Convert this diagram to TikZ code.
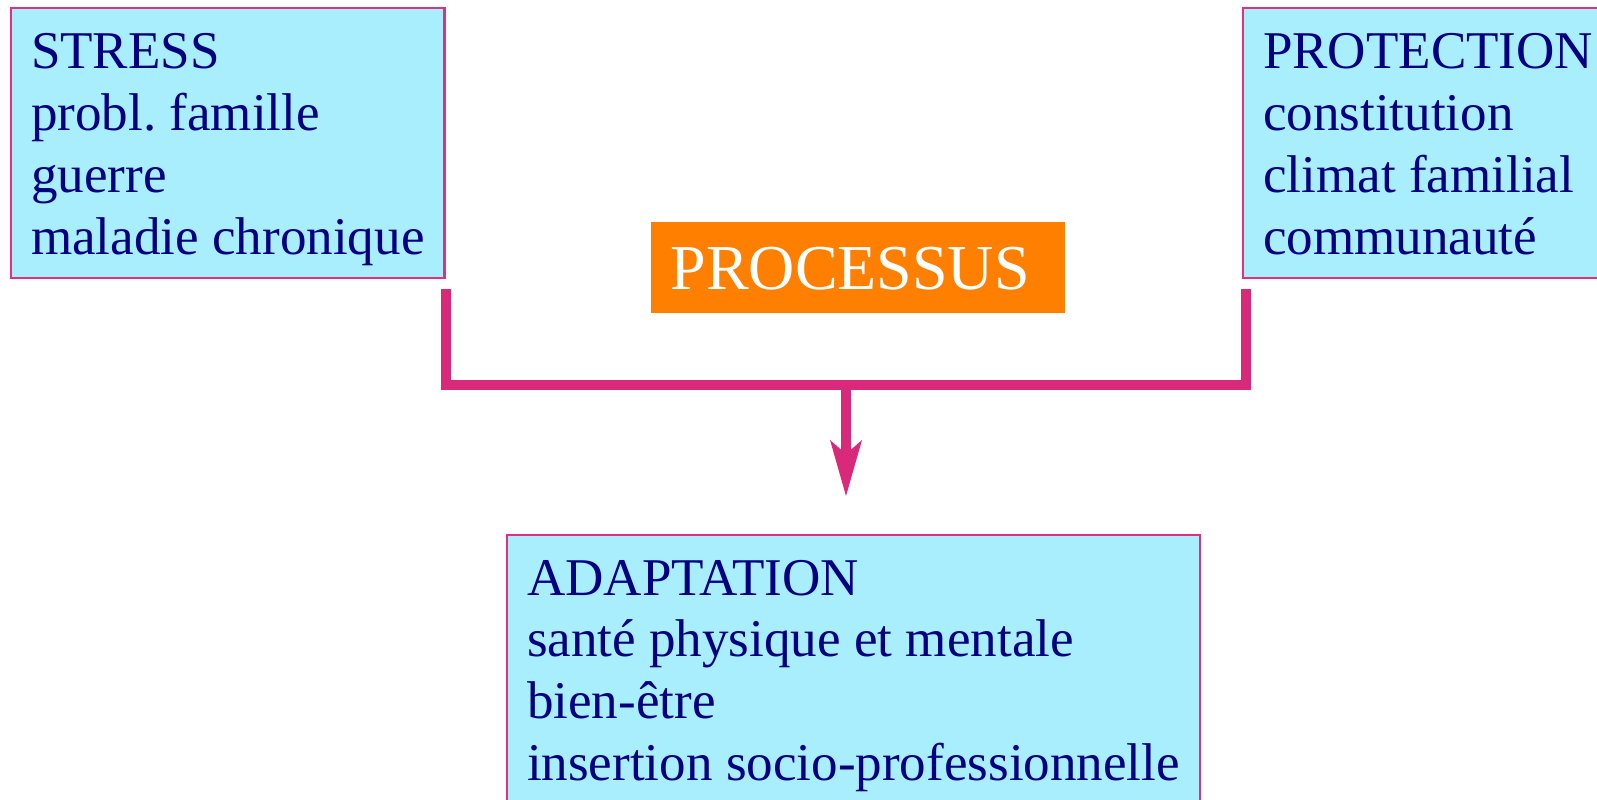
\documentclass[tikz,border=0pt]{standalone}
\usepackage{fontspec}
\setmainfont{Liberation Serif}
\usepackage{xcolor}
\usepackage{tikz}
\usetikzlibrary{arrows.meta}
\frenchspacing

\definecolor{boxcyan}{HTML}{A8EEFC}
\definecolor{boxrim}{HTML}{E0307F}
\definecolor{linkpink}{HTML}{D9297A}
\definecolor{textnavy}{HTML}{000080}
\definecolor{procorange}{HTML}{FF7F00}

\tikzset{
  factorbox/.style={draw=boxrim, line width=0.6pt, fill=boxcyan, text=textnavy,
    align=left, anchor=north west, inner xsep=2mm, inner ysep=0pt,
    font=\fontsize{15.1pt}{17.55pt}\selectfont},
  link/.style={draw=linkpink, line width=1mm}
}

\begin{document}
\begin{tikzpicture}
\useasboundingbox (0,0) rectangle (15.97,8);
\clip (0,0) rectangle (15.97,8);

\node[factorbox, text height=24.6mm, text depth=2.4mm] (stress) at (0.10,7.93)
  {STRESS\\probl. famille\\guerre\\maladie chronique};
\node[factorbox, text height=24.6mm, text depth=2.4mm] (protection) at (12.42,7.93)
  {PROTECTION\\constitution\\climat familial\\communauté};
\node[fill=procorange, text=white, anchor=north west, minimum width=4.14cm,
  inner xsep=0pt, inner ysep=0pt, text height=6.8mm, text depth=2.3mm,
  font=\fontsize{18.2pt}{21pt}\selectfont] (processus) at (6.50,5.79) {PROCESSUS\kern1.5mm};
\node[factorbox, text height=24.5mm, text depth=3mm] (adapt) at (5.06,2.66)
  {ADAPTATION\\santé physique et mentale\\bien-être\\insertion socio-professionnelle};

\coordinate (sIn) at (4.46,5.11);
\coordinate (pIn) at (12.46,5.11);
\coordinate (merge) at (8.46,4.15);
\coordinate (tip) at (8.46,3.04);

\draw[link] (sIn) |- (merge) -| (pIn);
\draw[link, -{Stealth[length=5.6mm, width=3.2mm, inset=1.4mm, line width=0pt]}] (merge) -- (tip);
\end{tikzpicture}
\end{document}
